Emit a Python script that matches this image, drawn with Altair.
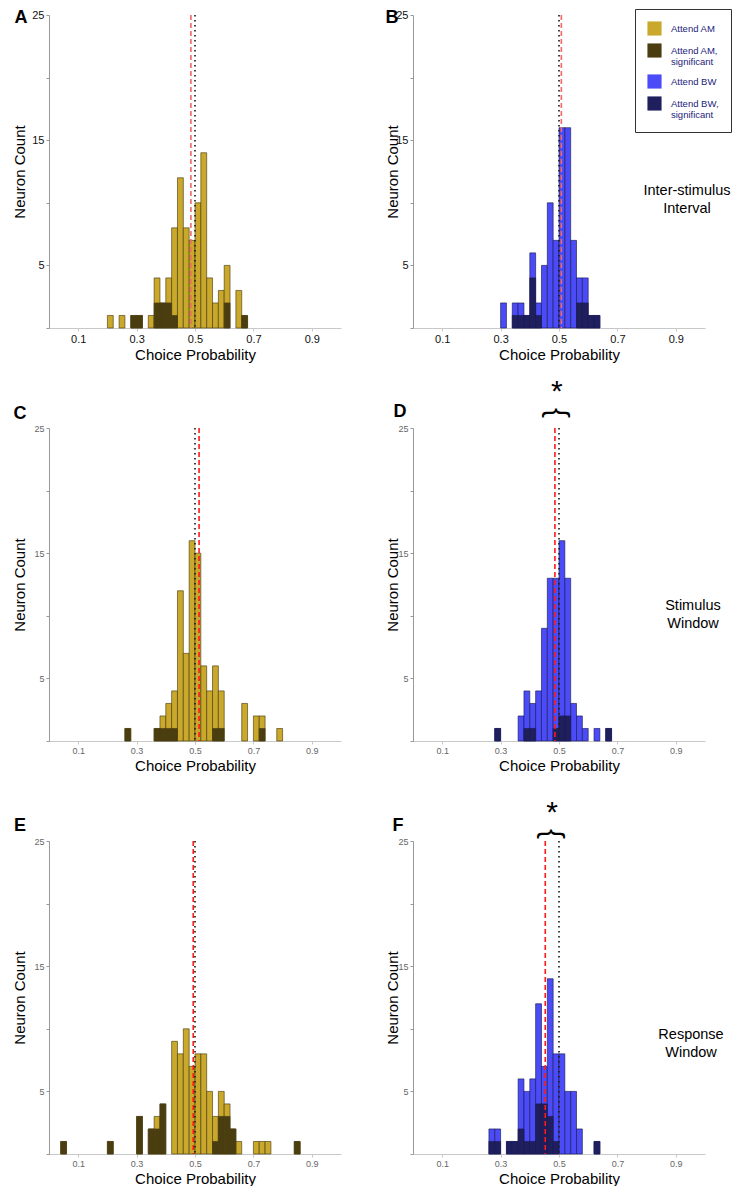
import altair as alt
import pandas as pd

BIN = 0.02
SERIES = ["Attend AM", "Attend AM, significant", "Attend BW", "Attend BW, significant"]
COLORS = ["#C9A82C", "#4A3E10", "#4B4BF8", "#1F1F5E"]

X_TICKS = [0.1, 0.2, 0.3, 0.4, 0.5, 0.6, 0.7, 0.8, 0.9]
Y_TICKS = [0, 5, 10, 15, 20, 25]

# Panel A - Attend AM, inter-stimulus interval
A_bins = [0.20, 0.24, 0.28, 0.30, 0.34, 0.36, 0.38, 0.40, 0.42, 0.44, 0.46, 0.48, 0.50,
          0.52, 0.54, 0.56, 0.58, 0.60, 0.64, 0.66]
A_total = [1, 1, 1, 1, 1, 4, 2, 4, 8, 12, 8, 7, 10, 14, 4, 2, 3, 5, 3, 1]
A_sig = [0, 0, 1, 1, 0, 2, 2, 2, 1, 0, 0, 0, 0, 0, 0, 0, 0, 2, 0, 1]
A_mean = 0.486

# Panel B - Attend BW, inter-stimulus interval
B_bins = [0.30, 0.34, 0.36, 0.38, 0.40, 0.42, 0.44, 0.46, 0.48, 0.50, 0.52, 0.54, 0.56,
          0.58, 0.60, 0.62]
B_total = [2, 2, 2, 1, 6, 2, 5, 10, 7, 16, 16, 7, 4, 4, 1, 1]
B_sig = [0, 1, 1, 1, 4, 1, 0, 0, 0, 0, 0, 0, 2, 2, 1, 1]
B_mean = 0.508

# Panel C - Attend AM, stimulus window
C_bins = [0.26, 0.36, 0.38, 0.40, 0.42, 0.44, 0.46, 0.48, 0.50, 0.52, 0.54, 0.56, 0.58,
          0.66, 0.70, 0.72, 0.78]
C_total = [1, 1, 2, 3, 4, 12, 7, 16, 15, 6, 4, 6, 4, 3, 2, 2, 1]
C_sig = [1, 1, 1, 1, 1, 0, 0, 0, 0, 0, 0, 1, 1, 0, 0, 1, 0]
C_mean = 0.514

# Panel D - Attend BW, stimulus window
D_bins = [0.28, 0.36, 0.38, 0.40, 0.42, 0.44, 0.46, 0.48, 0.50, 0.52, 0.54, 0.56, 0.58,
          0.62, 0.66]
D_total = [1, 2, 4, 3, 4, 9, 13, 13, 16, 13, 3, 2, 1, 1, 1]
D_sig = [1, 0, 1, 1, 0, 0, 0, 1, 2, 2, 0, 0, 0, 0, 1]
D_mean = 0.486

# Panel E - Attend AM, response window
E_bins = [0.04, 0.20, 0.30, 0.34, 0.36, 0.38, 0.42, 0.44, 0.46, 0.48, 0.50, 0.52, 0.54,
          0.56, 0.58, 0.60, 0.62, 0.64, 0.70, 0.72, 0.74, 0.84]
E_total = [1, 1, 3, 2, 3, 4, 9, 8, 10, 7, 8, 8, 5, 3, 5, 4, 2, 1, 1, 1, 1, 1]
E_sig = [1, 1, 3, 2, 2, 4, 0, 0, 0, 0, 0, 0, 0, 1, 3, 3, 2, 0, 0, 0, 0, 1]
E_mean = 0.494

# Panel F - Attend BW, response window
F_bins = [0.26, 0.28, 0.32, 0.34, 0.36, 0.38, 0.40, 0.42, 0.44, 0.46, 0.48, 0.50, 0.52,
          0.54, 0.56, 0.62]
F_total = [2, 2, 1, 1, 6, 5, 6, 12, 7, 14, 8, 8, 5, 5, 2, 1]
F_sig = [1, 1, 1, 1, 2, 1, 1, 4, 4, 3, 1, 0, 0, 0, 0, 1]
F_mean = 0.453

CHANCE = 0.5
W = 292
H = 313

color_scale = alt.Scale(domain=SERIES, range=COLORS)
legend = alt.Legend(
    orient="none", legendX=586, legendY=-6, title=None,
    symbolType="square", symbolSize=200, symbolStrokeWidth=0,
    labelFont="Liberation Sans", labelFontSize=9.5, labelColor="#23237A",
    labelExpr="split(replace(datum.label, ', ', ',|'), '|')",
    labelLimit=200, labelOffset=9, strokeColor="#333", fillColor="white",
    padding=12, rowPadding=7, cornerRadius=0,
)


def panel(bins, total, sig, mean, kind, letter, big, title_x, letter_xy, note=None, star=None):
    main, signif = (SERIES[0], SERIES[1]) if kind == "AM" else (SERIES[2], SERIES[3])
    df_t = pd.DataFrame({"lo": bins, "n": total, "series": main})
    df_s = pd.DataFrame({"lo": bins, "n": sig, "series": signif})
    df_s = df_s[df_s["n"] > 0]
    df = pd.concat([df_t, df_s], ignore_index=True)
    df["hi"] = df["lo"] + BIN

    lab_size = 11 if big else 9
    lab_color = "#111" if big else "#666"
    xaxis = alt.Axis(
        values=X_TICKS, title="Choice Probability", titleFontSize=15, titleFontWeight="normal",
        titleColor="black", labelFontSize=lab_size, labelColor=lab_color,
        labelExpr="round(datum.value*10) % 2 == 1 ? format(datum.value, '.1f') : ''",
        domainColor="#c8c8c8", tickColor="#c8c8c8", tickSize=3, grid=False,
        labelPadding=2, titlePadding=3,
    )
    yaxis = alt.Axis(
        values=Y_TICKS, title="Neuron Count", titleFontSize=15, titleFontWeight="normal",
        titleColor="black", labelFontSize=lab_size, labelColor=lab_color,
        labelExpr="datum.value % 10 == 5 ? datum.label : ''",
        domainColor="#999", tickColor="#999", tickSize=3, grid=False,
        titleX=title_x, titleBaseline="middle",
    )
    stroke = "#4a3d12" if kind == "AM" else "#1a1a55"
    bars = alt.Chart(df).mark_rect(stroke=stroke, strokeWidth=0.8, strokeOpacity=0.8).encode(
        x=alt.X("lo:Q", scale=alt.Scale(domain=[0, 1], nice=False, zero=False), axis=xaxis),
        x2="hi:Q",
        y=alt.Y("n:Q", scale=alt.Scale(domain=[0, 25], nice=False), axis=yaxis),
        y2=alt.datum(0),
        color=alt.Color("series:N", scale=color_scale, legend=legend),
    )
    red = "#F06A6A" if big else "#FF1A1A"
    chance = alt.Chart(pd.DataFrame({"k": [0]})).mark_rule(
        color="#222", strokeDash=[1.6, 3.4], strokeWidth=1.7).encode(x=alt.datum(CHANCE))
    mline = alt.Chart(pd.DataFrame({"k": [0]})).mark_rule(
        color=red, strokeDash=[5, 3], strokeWidth=1.6).encode(x=alt.datum(mean))
    lbl = alt.Chart(pd.DataFrame({"t": [letter]})).mark_text(
        fontSize=18, fontWeight="bold", align="center", baseline="top", font="Liberation Sans"
    ).encode(text="t:N", x=alt.value(letter_xy[0]), y=alt.value(letter_xy[1]))
    layers = [bars, chance, mline, lbl]
    if note is not None:
        txt = alt.Chart(pd.DataFrame({"k": [0]})).mark_text(
            fontSize=14.5, align="center", baseline="top", lineHeight=18, font="Liberation Sans"
        ).encode(text=alt.value(note[0]), x=alt.value(note[1]), y=alt.value(note[2]))
        layers.append(txt)
    if star is not None:
        mid = (mean + CHANCE) / 2
        s = alt.Chart(pd.DataFrame({"k": [0]})).mark_text(
            fontSize=30, align="center", baseline="alphabetic", font="Liberation Sans"
        ).encode(text=alt.value("*"), x=alt.datum(mid), y=alt.value(star[0]))
        b = alt.Chart(pd.DataFrame({"k": [0]})).mark_text(
            fontSize=30, align="center", baseline="middle", angle=90, font="Liberation Sans"
        ).encode(text=alt.value("{"), x=alt.datum(mid), y=alt.value(star[1]))
        layers += [s, b]
    return alt.layer(*layers).properties(width=W, height=H)


pA = panel(A_bins, A_total, A_sig, A_mean, "AM", "A", True, -30, (-28, -6))
pB = panel(B_bins, B_total, B_sig, B_mean, "BW", "B", True, -21, (-21, -6),
           note=(["Inter-stimulus", "Interval"], 274, 169))
pC = panel(C_bins, C_total, C_sig, C_mean, "AM", "C", False, -30, (-29, -23))
pD = panel(D_bins, D_total, D_sig, D_mean, "BW", "D", False, -21, (-13, -25),
           note=(["Stimulus", "Window"], 280, 171), star=(-27, -15))
pE = panel(E_bins, E_total, E_sig, E_mean, "AM", "E", False, -30, (-29, -24))
pF = panel(F_bins, F_total, F_sig, F_mean, "BW", "F", False, -21, (-15, -24),
           note=(["Response", "Window"], 278, 187), star=(-19, -7))

chart = alt.concat(
    pA, pB, pC, pD, pE, pF, columns=2, spacing={"row": 100, "column": 72}, bounds="flush"
).properties(
    padding={"left": 4, "top": 0, "right": 0, "bottom": 0}
).configure(font="Liberation Sans").configure_view(stroke=None)

chart.save("out.html", embed_options={"renderer": "svg", "actions": False})
